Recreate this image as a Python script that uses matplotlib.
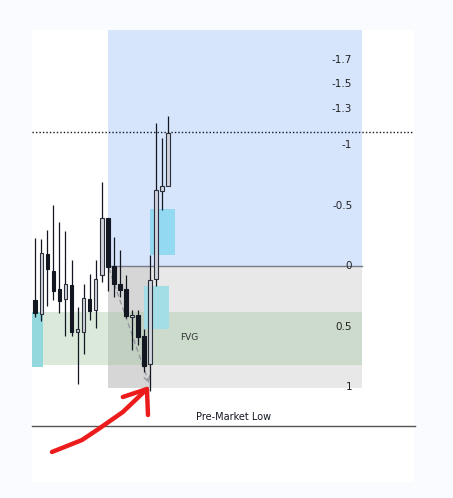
import matplotlib.pyplot as plt
from matplotlib.patches import Rectangle

# ================== Candle data (price units) ==================
opens  = [108.7, 107.3, 113.3, 111.6, 109.8, 108.8, 110.2, 105.5, 105.5, 108.8, 107.7, 111.2,
          116.9, 112.1, 110.3, 109.8, 107.0, 107.2, 105.1, 102.3, 110.8, 119.6, 120.1]
closes = [107.4, 113.4, 111.8, 109.6, 108.6, 110.3, 105.5, 105.8, 108.9, 107.6, 110.8, 116.9,
          112.0, 110.3, 109.7, 107.1, 107.2, 105.0, 102.1, 110.7, 119.7, 120.1, 125.4]
highs  = [114.9, 114.8, 115.7, 118.2, 116.5, 115.6, 112.7, 108.0, 110.3, 111.3, 112.7, 120.5,
          116.9, 115.0, 113.7, 111.2, 107.7, 107.7, 105.8, 113.2, 126.4, 124.9, 127.1]
lows   = [107.0, 106.6, 108.1, 108.7, 107.4, 105.1, 105.1, 100.3, 103.3, 106.7, 105.9, 110.5,
          109.6, 109.0, 109.0, 106.9, 103.7, 104.2, 101.5, 99.6, 110.1, 117.7, 120.1]

# fib retracement between swing high and swing low
fib_high = 112.1
fib_low = 100.0
fib_levels = [-1.7, -1.5, -1.3, -1, -0.5, 0, 0.5, 1]
fib_labels = ["-1.7", "-1.5", "-1.3", "-1", "-0.5", "0", "0.5", "1"]

last_price = 125.5
premarket_low = 96.1

# FVG zones: (x0, x1, y_low, y_high)
fvg_main = (-0.55, 54.1, 102.2, 107.5)
fvg_boxes = [(-0.55, 1.27, 102.0, 107.5, "#93d8dc"),
             (19.0, 23.1, 113.2, 117.8, "#94d9f2"),
             (18.0, 22.1, 105.8, 110.1, "#a3dde6")]

# hand drawn red arrow
arrow_x = [2.76, 7.74, 10.71, 14.5, 18.49]
arrow_y = [93.5, 94.7, 95.9, 97.5, 99.8]


def fib_price(lvl):
    return fib_high - lvl * (fib_high - fib_low)


fig = plt.figure(figsize=(4.53, 4.98), dpi=100)
fig.patch.set_facecolor("#f9fbff")
ax = fig.add_axes([0, 0, 1, 1])
ax.set_xlim(-5.84, 69.16)
ax.set_ylim(88.9, 138.7)
ax.axis("off")

# white chart panel
ax.add_patch(Rectangle((-0.55, 90.5), 63.25, 45.2, facecolor="white", edgecolor="none", zorder=0))

# fib boxes
x0, x1 = 12.05, 54.1
ax.add_patch(Rectangle((x0, fib_high), x1 - x0, 135.7 - fib_high, facecolor="#d6e4fc", edgecolor="none", zorder=1))
ax.add_patch(Rectangle((x0, 99.9), x1 - x0, fib_high - 99.9, facecolor="#e8e8e8", edgecolor="none", zorder=1))
ax.add_patch(Rectangle((x0, 99.9), 19.0 - x0, fib_high - 99.9, facecolor="#d6d6d6", edgecolor="none", zorder=1.5))
ax.plot([x0, x1], [fib_high, fib_high], color="#787b86", lw=1, zorder=2)

# FVG
ax.add_patch(Rectangle((fvg_main[0], fvg_main[2]), fvg_main[1] - fvg_main[0], fvg_main[3] - fvg_main[2],
                       facecolor="#a5c9a5", alpha=0.4, edgecolor="none", zorder=2))
for bx0, bx1, by0, by1, col in fvg_boxes:
    ax.add_patch(Rectangle((bx0, by0), bx1 - bx0, by1 - by0, facecolor=col, edgecolor="none", zorder=2.2))
ax.text(24.0, 104.9, "FVG", fontsize=6.5, color="#333333", va="center", ha="left", zorder=5)

for lvl, lab in zip(fib_levels, fib_labels):
    ax.text(52.5, fib_price(lvl), lab, fontsize=7.5, color="#222222", ha="right", va="center", zorder=5)

# dashed diagonal from swing high to swing low
ax.annotate("", xy=(19.0, 100.1), xytext=(12.05, 112.1),
            arrowprops=dict(arrowstyle="->", color="#9598a1", lw=1, linestyle=(0, (3, 3))), zorder=3)

# candles
for i in range(len(opens)):
    o, c, h, l = opens[i], closes[i], highs[i], lows[i]
    ax.vlines(i, l, h, color="#131722", lw=0.9, zorder=4)
    if c >= o:
        ax.bar(i, c - o if c - o > 0.2 else 0.2, bottom=min(o, c), width=0.6,
               color="#d1d4dc", edgecolor="#2a2e39", linewidth=0.8, zorder=4.5)
    else:
        ax.bar(i, o - c, bottom=c, width=0.6, color="#131722", edgecolor="#131722",
               linewidth=0.8, zorder=4.5)

# last price dotted line
ax.plot([-0.55, 62.5], [last_price, last_price], color="#131722", lw=1, linestyle=(0, (1, 1.5)), zorder=5)

# pre-market low
ax.plot([-0.55, 62.9], [premarket_low, premarket_low], color="#555555", lw=1, zorder=5)
ax.text(32.9, premarket_low + 0.4, "Pre-Market Low", fontsize=7, color="#131722", ha="center", va="bottom", zorder=5)

# red arrow
ax.plot(arrow_x, arrow_y, color="#ec1c1c", lw=3.2, solid_capstyle="round", solid_joinstyle="round", zorder=6)
ax.plot([14.5, 18.49, 18.66], [99.0, 99.8, 97.2], color="#ec1c1c", lw=3.2,
        solid_capstyle="round", solid_joinstyle="round", zorder=6)

fig.savefig("out.png", dpi=100)
